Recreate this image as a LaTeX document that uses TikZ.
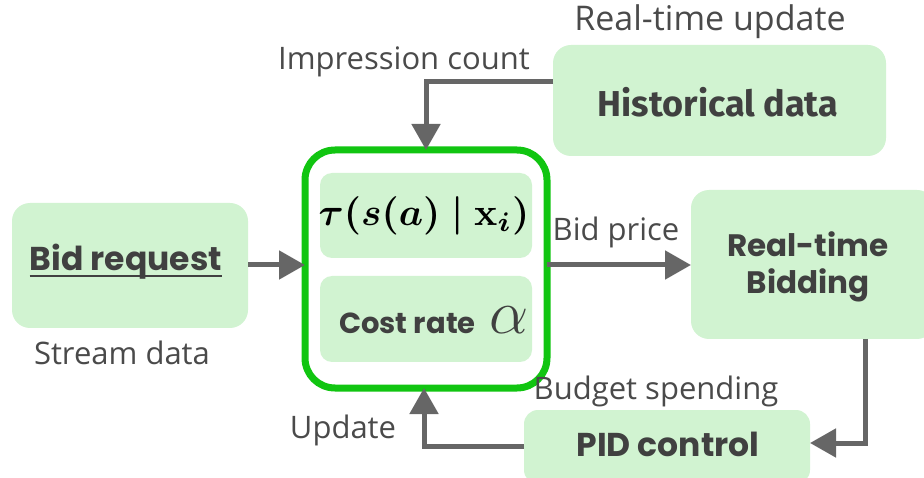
\documentclass[tikz,border=0pt]{standalone}
\usepackage{amsmath,bm,graphicx}
\usepackage{fontspec}
\usetikzlibrary{arrows.meta}
\setmainfont{Poppins}
\newfontfamily\labelfont{Open Sans}
\newfontfamily\histfont{Fira Sans}
\definecolor{boxfill}{HTML}{D1F3D1}
\definecolor{boxtext}{HTML}{404040}
\definecolor{labeltext}{HTML}{4A4A4A}
\definecolor{wire}{HTML}{666666}
\definecolor{frame}{HTML}{11C511}
\begin{document}
\begin{tikzpicture}[x=1pt,y=-1pt,
  gbox/.style={fill=boxfill,rounded corners=18pt,draw=none},
  btext/.style={text=boxtext,font=\bfseries\fontsize{33}{38}\selectfont,align=center},
  lbl/.style={text=labeltext,font=\labelfont\fontsize{31}{34}\selectfont},
  wirearrow/.style={draw=wire,line width=5pt,-{Triangle[length=26pt,width=28pt]}},
  wireline/.style={draw=wire,line width=5pt}]
\useasboundingbox (0,0) rectangle (924,478);
% boxes
\path[gbox] (12,203) rectangle (248,328);
\node[btext,inner xsep=0pt] (req) at (126,262) {Bid request};
\draw[boxtext,line width=2.6pt] ([yshift=-5pt]req.base west) -- ([yshift=-5pt]req.base east);
\coordinate (reqE) at (248,265);
\node[lbl] (stream) at (122,353) {Stream data};

\draw[frame,line width=7pt,fill=white,rounded corners=30pt] (305,150) rectangle (547,388);
\coordinate (modW) at (305,265);
\coordinate (modE) at (547,265);
\coordinate (modN) at (426,150);
\coordinate (modS) at (424,388);
\path[gbox,rounded corners=12pt] (320,173) rectangle (532,258);
\path[gbox,rounded corners=12pt] (320,276) rectangle (532,362);
\node (tau) at (424,216) {\scalebox{3.85}{$\boldsymbol{\tau(s(a)\mid \mathbf{x}_i)}$}};
\node[text=boxtext] (cost) at (434,320) {\bfseries\fontsize{29}{34}\selectfont Cost rate\hspace{14pt}\scalebox{2.5}{$\alpha$}};

\path[gbox] (553,45) rectangle (886,156);
\node[text=boxtext,font=\histfont\bfseries\fontsize{36}{40}\selectfont] (hist) at (718,102) {Historical data};
\coordinate (histW) at (553,82);
\node[lbl,font=\labelfont\fontsize{34}{38}\selectfont] (rtu) at (710,22) {Real-time update};
\node[lbl] (imp) at (404,62) {Impression count};

\path[gbox] (691,190) rectangle (935,339);
\node[btext,font=\bfseries\fontsize{31}{37}\selectfont] (rtb) at (808,267) {Real-time\\Bidding};
\coordinate (rtbW) at (691,265);
\coordinate (rtbS) at (865,339);
\node[lbl] (bp) at (616,232) {Bid price};

\path[gbox,rounded corners=14pt] (524,410) rectangle (810,484);
\node[btext] (pid) at (668,444) {PID control};
\coordinate (pidE) at (810,443);
\coordinate (pidW) at (524,446);
\node[lbl] (bs) at (656,391) {Budget spending};
\node[lbl] (upd) at (343,430) {Update};

% connectors
\draw[wirearrow] (reqE) -- (modW);
\draw[wirearrow] (modE) -- (rtbW);
\draw[wirearrow] (histW) -| (modN);
\draw[wirearrow] (rtbS) |- (pidE);
\draw[wirearrow] (pidW) -| (modS);
\end{tikzpicture}
\end{document}
